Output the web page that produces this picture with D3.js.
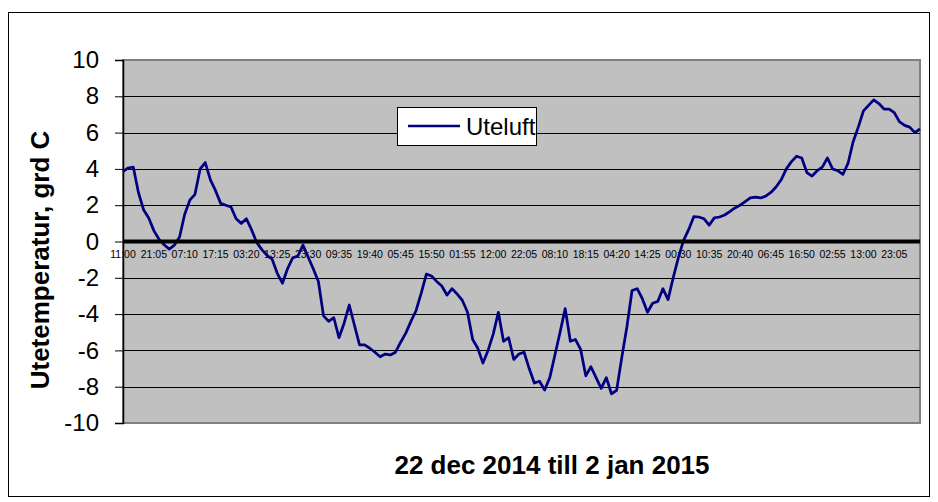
<!DOCTYPE html>
<html>
<head>
<meta charset="utf-8">
<script src="https://cdn.jsdelivr.net/npm/d3@7"></script>
<style>
  body { margin: 0; background: #fff; }
  text { font-family: Arial, "Liberation Sans", sans-serif; }
</style>
</head>
<body>
<div id="chart"></div>
<script>
// category labels along the zero line (one for every 6 readings)
const timeLabels = ['11:00', '21:05', '07:10', '17:15', '03:20', '13:25', '23:30', '09:35', '19:40', '05:45',
    '15:50', '01:55', '12:00', '22:05', '08:10', '18:15', '04:20', '14:25', '00:30', '10:35',
    '20:40', '06:45', '16:50', '02:55', '13:00', '23:05']
const labelEvery = 6

const yTicks = [-10, -8, -6, -4, -2, 0, 2, 4, 6, 8, 10]

// outdoor temperature, grd C
const uteluft = [
    3.85, 4.05, 4.1, 2.7, 1.75, 1.3, 0.6, 0.12, -0.18, -0.42,
    -0.2, 0.25, 1.5, 2.28, 2.6, 4.0, 4.35, 3.4, 2.8, 2.1,
    2.0, 1.9, 1.25, 1.0, 1.25, 0.65, -0.05, -0.45, -0.76, -0.98,
    -1.75, -2.3, -1.5, -0.9, -0.8, -0.2, -0.85, -1.5, -2.2, -4.1,
    -4.4, -4.2, -5.3, -4.5, -3.5, -4.6, -5.7, -5.7, -5.88, -6.1,
    -6.35, -6.2, -6.25, -6.1, -5.55, -5.05, -4.4, -3.8, -2.85, -1.8,
    -1.9, -2.2, -2.45, -2.95, -2.6, -2.9, -3.25, -3.9, -5.4, -5.88,
    -6.7, -6.0, -5.1, -3.9, -5.5, -5.3, -6.5, -6.2, -6.1, -7.0,
    -7.8, -7.7, -8.18, -7.5, -6.25, -5.0, -3.7, -5.5, -5.4, -5.95,
    -7.4, -6.9, -7.5, -8.09, -7.5, -8.4, -8.2, -6.4, -4.7, -2.7,
    -2.6, -3.15, -3.9, -3.4, -3.3, -2.6, -3.2, -2.0, -0.9, 0.05,
    0.65, 1.37, 1.35, 1.25, 0.9, 1.3, 1.35, 1.46, 1.65, 1.85,
    2.0, 2.2, 2.4, 2.45, 2.4, 2.5, 2.7, 3.0, 3.4, 4.0,
    4.4, 4.7, 4.6, 3.8, 3.6, 3.9, 4.1, 4.6, 4.0, 3.9,
    3.7, 4.3, 5.5, 6.3, 7.2, 7.5, 7.8, 7.6, 7.3, 7.3,
    7.1, 6.6, 6.4, 6.3, 6.0, 6.2
]

const svgWidth = 938
const svgHeight = 502

const plot = { left: 123, right: 920, top: 60, bottom: 423 }

const svg = d3.select('#chart')
    .append('svg')
    .attr('width', svgWidth)
    .attr('height', svgHeight)

// chart frame
svg.append('rect')
    .attr('x', 8.5)
    .attr('y', 12.5)
    .attr('width', 921)
    .attr('height', 484)
    .attr('fill', 'white')
    .attr('stroke', 'black')
    .attr('stroke-width', 1)

////////////////////////////////////
//////////////scales////////////////
////////////////////////////////////

const xScale = d3.scaleLinear()
    .domain([0, uteluft.length - 1])
    .range([plot.left, plot.right])

const yScale = d3.scaleLinear()
    .domain([-10, 10])
    .range([plot.bottom, plot.top])

// plot area
svg.append('rect')
    .attr('x', plot.left)
    .attr('y', plot.top)
    .attr('width', plot.right - plot.left)
    .attr('height', plot.bottom - plot.top)
    .attr('fill', '#c0c0c0')
    .attr('stroke', '#808080')
    .attr('stroke-width', 2)

// gridlines
svg.selectAll('.grid')
    .data(yTicks.filter(d => d != 0 && d != -10 && d != 10))
    .join('line')
    .attr('class', 'grid')
    .attr('x1', plot.left)
    .attr('x2', plot.right)
    .attr('y1', d => Math.round(yScale(d)) + 0.5)
    .attr('y2', d => Math.round(yScale(d)) + 0.5)
    .attr('stroke', 'black')
    .attr('stroke-width', 1)

////////////////////////////////////
///////////// axis /////////////////
////////////////////////////////////

// plain hyphen for negatives, like the original
const yAxis = d3.axisLeft(yScale)
    .tickValues(yTicks)
    .tickSize(8)
    .tickPadding(16)
    .tickFormat(d => String(d))

svg.append('g')
    .attr('transform', `translate(${plot.left},0)`)
    .call(yAxis)
    .call(g => g.selectAll('text')
        .attr('font-size', 24)
        .attr('fill', 'black')
        .style('font-family', 'Arial, "Liberation Sans", sans-serif'))
    .call(g => g.selectAll('line').attr('stroke', 'black'))
    .call(g => g.select('.domain').attr('stroke', 'black').attr('stroke-width', 1.5))

// category labels sit just under the zero line
svg.selectAll('.cat')
    .data(timeLabels)
    .join('text')
    .attr('class', 'cat')
    .attr('x', (d, i) => xScale(i * labelEvery))
    .attr('y', yScale(0) + 16)
    .attr('text-anchor', 'middle')
    .attr('font-size', 10.5)
    .attr('fill', 'black')
    .text(d => d)

////////////////////////////////////
/////////// data line //////////////
////////////////////////////////////

const line = d3.line()
    .x((d, i) => xScale(i))
    .y(d => yScale(d))

svg.append('path')
    .datum(uteluft)
    .attr('d', line)
    .attr('fill', 'none')
    .attr('stroke', '#000080')
    .attr('stroke-width', 2.75)
    .attr('stroke-linejoin', 'round')

// zero line (category axis)
svg.append('line')
    .attr('x1', plot.left)
    .attr('x2', plot.right)
    .attr('y1', yScale(0))
    .attr('y2', yScale(0))
    .attr('stroke', 'black')
    .attr('stroke-width', 4)

// titles
svg.append('text')
    .text('Utetemperatur, grd C')
    .attr('text-anchor', 'middle')
    .attr('font-size', 26)
    .attr('font-weight', 'bold')
    .attr('transform', `translate(49,260) rotate(-90)`)

svg.append('text')
    .text('22 dec 2014 till 2 jan 2015')
    .attr('x', 552)
    .attr('y', 474)
    .attr('text-anchor', 'middle')
    .attr('font-size', 26)
    .attr('font-weight', 'bold')

// legend
const legend = svg.append('g')
    .attr('transform', 'translate(397,107)')

legend.append('rect')
    .attr('x', 0.5)
    .attr('y', 0.5)
    .attr('width', 139)
    .attr('height', 38)
    .attr('fill', 'white')
    .attr('stroke', 'black')

legend.append('line')
    .attr('x1', 11)
    .attr('x2', 63)
    .attr('y1', 19)
    .attr('y2', 19)
    .attr('stroke', '#000080')
    .attr('stroke-width', 2.5)

legend.append('text')
    .text('Uteluft')
    .attr('x', 69)
    .attr('y', 28)
    .attr('font-size', 24)
    .attr('fill', 'black')
</script>
</body>
</html>
